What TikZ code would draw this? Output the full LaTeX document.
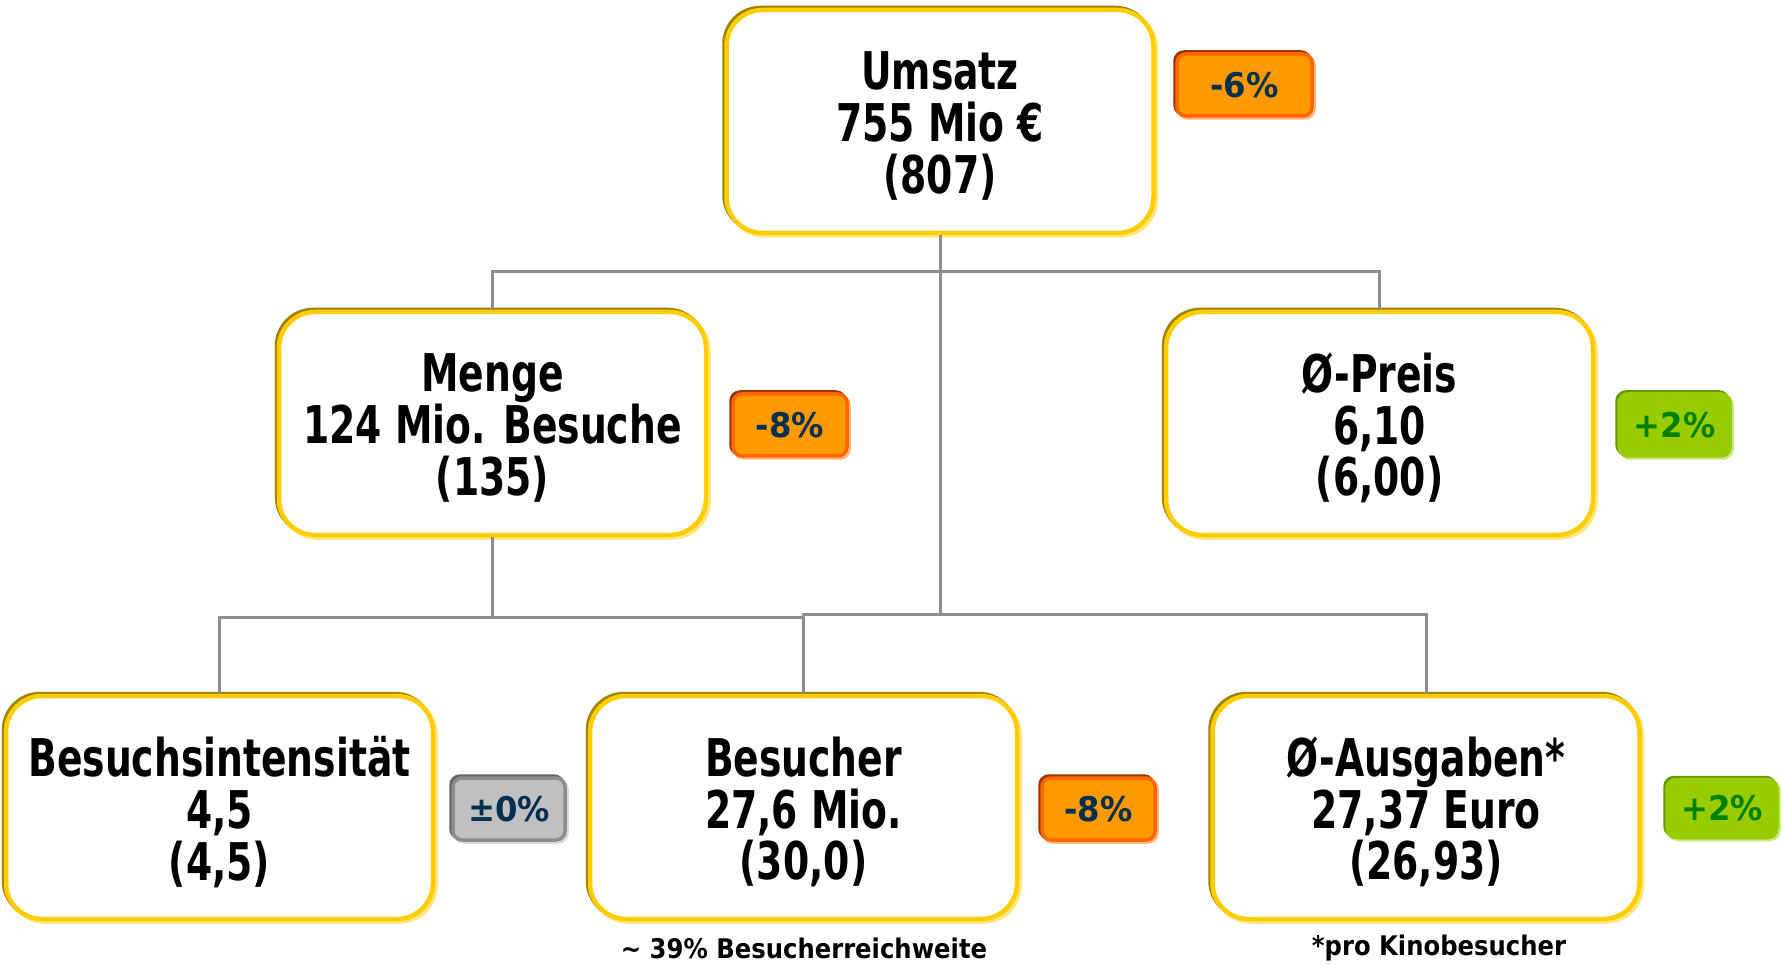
\documentclass[tikz,border=0pt]{standalone}
\usepackage{fontspec}
\usetikzlibrary{shadows}
\newfontfamily\boxfont{DejaVu Sans Bold}[FakeStretch=0.725]
\newfontfamily\badgefont{DejaVu Sans Bold}[FakeStretch=0.95]
\newfontfamily\notefont{DejaVu Sans Bold}[FakeStretch=0.9]
\newcommand\klines[3]{\raisebox{-4.5pt}[\height][\depth]{\vbox{\baselineskip=51.7pt\lineskiplimit=-100pt\tabskip=0pt
  \halign{\hfil##\hfil\cr#1\cr#2\cr#3\cr}}}}
\definecolor{ybord}{HTML}{FFCC00}
\definecolor{ydark}{HTML}{9E8200}
\definecolor{ylight}{HTML}{FFE680}
\definecolor{conn}{HTML}{8C8C8C}
\definecolor{ofill}{HTML}{FF9900}
\definecolor{obord}{HTML}{FF6600}
\definecolor{odark}{HTML}{993300}
\definecolor{olight}{HTML}{FFB380}
\definecolor{gfill}{HTML}{99CC00}
\definecolor{gdark}{HTML}{669900}
\definecolor{glight}{HTML}{CCE680}
\definecolor{sfill}{HTML}{C0C0C0}
\definecolor{sbord}{HTML}{8C8C8C}
\definecolor{sdark}{HTML}{666666}
\definecolor{slight}{HTML}{D9D9D9}
\definecolor{navy}{HTML}{003050}
\definecolor{dgreen}{HTML}{008000}
\tikzset{
  kbox/.style={draw=ybord, line width=4.5pt, fill=white, rounded corners=36pt,
    minimum width=427pt, minimum height=223pt, inner sep=0pt,
    font=\boxfont\fontsize{52}{52}\selectfont,
    copy shadow={shadow xshift=2.5pt, shadow yshift=-2.5pt, draw=ylight, fill=ylight},
    copy shadow={shadow xshift=-2pt, shadow yshift=2pt, draw=ydark, fill=ydark}},
  badge/.style={line width=3.5pt, rounded corners=9pt, minimum height=62pt, inner sep=0pt,
    font=\badgefont\fontsize{34}{34}\selectfont},
  obadge/.style={badge, draw=obord, fill=ofill, text=navy,
    copy shadow={shadow xshift=2pt, shadow yshift=-2pt, draw=olight, fill=olight},
    copy shadow={shadow xshift=-2pt, shadow yshift=2pt, draw=odark, fill=odark}},
  gbadge/.style={badge, draw=gfill, fill=gfill, text=dgreen,
    copy shadow={shadow xshift=2pt, shadow yshift=-2pt, draw=glight, fill=glight},
    copy shadow={shadow xshift=-2pt, shadow yshift=2pt, draw=gdark, fill=gdark}},
  sbadge/.style={badge, draw=sbord, fill=sfill, text=navy,
    copy shadow={shadow xshift=2pt, shadow yshift=-2pt, draw=slight, fill=slight},
    copy shadow={shadow xshift=-2pt, shadow yshift=2pt, draw=sdark, fill=sdark}},
  link/.style={draw=conn, line width=3pt},
  note/.style={font=\notefont\fontsize{27}{27}\selectfont, inner sep=0pt}
}
\begin{document}
\begin{tikzpicture}[x=1pt, y=-1pt]
\useasboundingbox (0,0) rectangle (1781,965);
\coordinate (j1) at (940,272);
\coordinate (j2) at (940,614);
\coordinate (j3) at (492.5,617);
\node[kbox] (ums) at (940,121.5) {\klines{Umsatz}{755 Mio €}{(807)}};
\node[kbox] (menge) at (492.5,423.5) {\klines{Menge}{124 Mio. Besuche}{(135)}};
\node[kbox] (preis) at (1379.5,423.5) {\klines{Ø-Preis}{6,10}{(6,00)}};
\node[kbox] (int) at (219.5,807.5) {\klines{Besuchsintensität}{4,5}{(4,5)}};
\node[kbox] (bes) at (803.5,807.5) {\klines{Besucher}{27,6 Mio.}{(30,0)}};
\node[kbox] (aus) at (1426,807.5) {\klines{Ø-Ausgaben*}{27,37 Euro}{(26,93)}};
% connectors
\draw[link] (ums.south) -- (j2);
\draw[link] (menge.north) |- (j1) -| (preis.north);
\draw[link] (bes.north) |- (j2) -| (aus.north);
\draw[link] (menge.south) -- (j3);
\draw[link] (int.north) |- (j3) -| (bes.north);
% badges
\node[obadge, minimum width=135pt] (b1) at (1244.5,85) {-6\%};
\node[obadge, minimum width=114pt] (b2) at (790,425) {-8\%};
\node[gbadge, minimum width=111pt] (b3) at (1674.5,425) {+2\%};
\node[sbadge, minimum width=112pt] (b4) at (509,809) {±0\%};
\node[obadge, minimum width=113pt] (b5) at (1098.5,809) {-8\%};
\node[gbadge, minimum width=110pt, minimum height=58pt] (b6) at (1722,808.5) {+2\%};
% notes
\node[note] (n1) at (804,948) {\textasciitilde{} 39\% Besucherreichweite};
\node[note] (n2) at (1439,948) {*pro Kinobesucher};
\end{tikzpicture}
\end{document}
